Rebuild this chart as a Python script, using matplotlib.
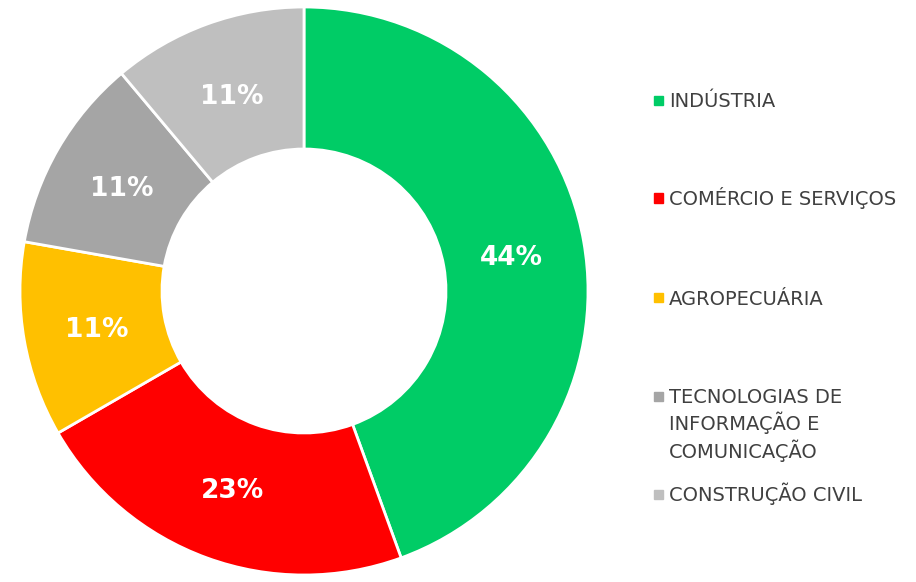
import matplotlib.pyplot as plt
from matplotlib.patches import Rectangle
import numpy as np

# Data
categories = ["INDÚSTRIA", "COMÉRCIO E SERVIÇOS", "AGROPECUÁRIA",
              "TECNOLOGIAS DE\nINFORMAÇÃO E\nCOMUNICAÇÃO", "CONSTRUÇÃO CIVIL"]
shares = [44.4, 22.2, 11.1, 11.1, 11.1]
pct_labels = ["44%", "23%", "11%", "11%", "11%"]
colors = ["#00CC66", "#FF0000", "#FFC000", "#A5A5A5", "#BFBFBF"]

# legend first-line y positions (pixels from top) - layout only
legend_y = [100, 198, 298, 396, 494]

W, H = 916, 582
fig = plt.figure(figsize=(W / 100, H / 100), dpi=100)
ax = fig.add_axes([20 / W, 7 / H, 568 / W, 568 / H])

wedges, texts = ax.pie(
    shares, colors=colors, startangle=90, counterclock=False,
    radius=1.0, wedgeprops=dict(width=0.5, edgecolor="white", linewidth=2))
ax.set_xlim(-1, 1)
ax.set_ylim(-1, 1)
ax.set_aspect("equal")
ax.axis("off")

# percentage labels in the middle of each ring segment
for w, lab in zip(wedges, pct_labels):
    ang = np.deg2rad((w.theta1 + w.theta2) / 2)
    ax.text(0.74 * np.cos(ang), 0.74 * np.sin(ang), lab, color="white",
            fontsize=19, fontweight="bold", ha="center", va="center_baseline")

# legend drawn manually to match the uneven spacing
line_px = 27.5
for cat, col, y in zip(categories, colors, legend_y):
    yf = 1 - y / H
    fig.add_artist(Rectangle((654 / W, yf - 4.5 / H), 9 / W, 9 / H,
                             color=col, transform=fig.transFigure))
    base = y + 7 + cat.count("\n") * line_px
    fig.text(669 / W, 1 - base / H, cat, fontsize=14,
             color="#404040", va="baseline", ha="left", linespacing=1.28)

fig.savefig("out.png", dpi=100)
